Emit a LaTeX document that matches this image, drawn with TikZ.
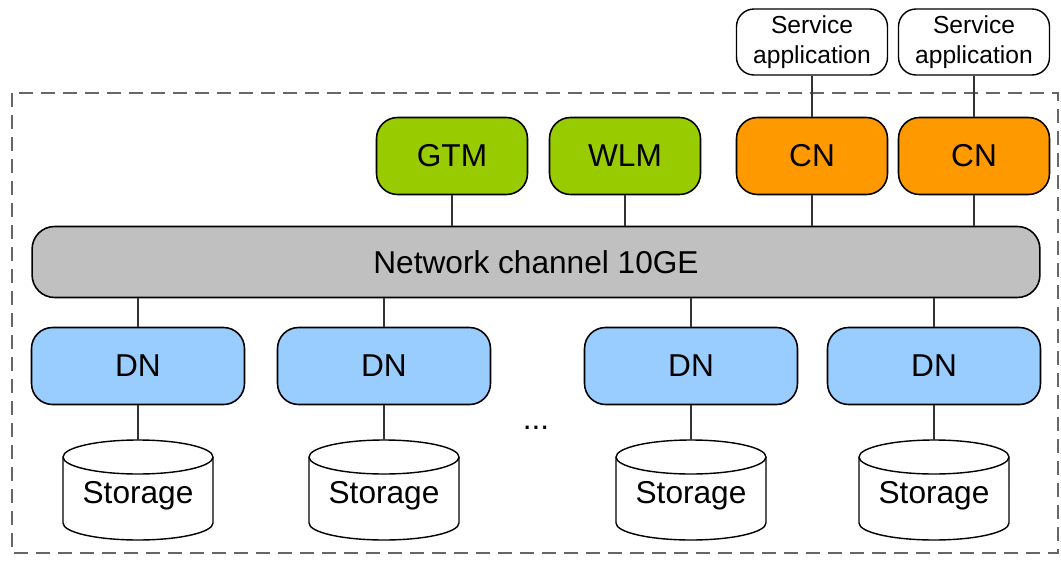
\documentclass[tikz,border=0pt]{standalone}
\usepackage{fontspec}
\setmainfont{Liberation Sans}
\usetikzlibrary{positioning}
\definecolor{mgreen}{HTML}{99CC00}
\definecolor{corange}{HTML}{FF9900}
\definecolor{dblue}{HTML}{99CCFF}
\definecolor{netgray}{HTML}{C0C0C0}
\tikzstyle{box} = [draw, line width=0.9pt, rounded corners=0.42cm, minimum height=1.54cm, font=\fontsize{18}{21}\selectfont]
\tikzstyle{gnode} = [box, fill=mgreen, minimum width=3.02cm]
\tikzstyle{cnode} = [box, fill=corange, minimum width=3.02cm]
\tikzstyle{dnode} = [box, fill=dblue, minimum width=4.26cm]
\tikzstyle{netbar} = [box, fill=netgray, minimum width=20.16cm, minimum height=1.42cm, rounded corners=0.45cm]
\tikzstyle{appbox} = [draw, line width=0.8pt, rounded corners=0.35cm, minimum width=3.02cm, minimum height=1.32cm, align=center, font=\fontsize{14}{17}\selectfont]
\tikzstyle{storage} = [minimum width=3cm, minimum height=2cm, text height=0.68cm, font=\fontsize{18}{21}\selectfont]
\tikzstyle{cyl} = [draw, line width=0.8pt, fill=white]
\tikzstyle{link} = [draw, line width=0.7pt, black!80]

\begin{document}
\begin{tikzpicture}[x=0.02cm, y=-0.02cm]
 \useasboundingbox (0,0) rectangle (1061,561);

 % cluster frame
 \draw[line width=1.1pt, black!60, dash pattern=on 0.28cm off 0.16cm] (12,93) rectangle (1058,553);

 \node[netbar] (net) at (536,262) {Network channel 10GE};

 \node[gnode] (gtm) at (452,156) {GTM};
 \node[gnode] (wlm) at (625,156) {WLM};
 \node[cnode] (cn1) at (812,156) {CN};
 \node[cnode] (cn2) at (974,156) {CN};

 \node[appbox] (app1) at (812,42) {Service\\application};
 \node[appbox] (app2) at (974,42) {Service\\application};

 \foreach \n in {gtm,wlm,cn1,cn2}
   \draw[link] (\n) -- (\n |- net.north);
 \draw[link] (app1) -- (cn1);
 \draw[link] (app2) -- (cn2);

 \foreach \x/\n in {138/1,384/2,691/3,934/4} {
   \node[dnode] (dn\n) at (\x,366) {DN};
   % disk drawn by hand
   \path[cyl] (\x-75,457) -- (\x-75,523)
     arc[start angle=180, end angle=360, x radius=1.5cm, y radius=0.34cm]
     -- (\x+75,457)
     arc[start angle=0, end angle=180, x radius=1.5cm, y radius=0.34cm] -- cycle;
   \draw[line width=0.8pt] (\x-75,457)
     arc[start angle=180, end angle=360, x radius=1.5cm, y radius=0.34cm];
   \node[storage] (st\n) at (\x,490) {Storage};
   \draw[link] (dn\n |- net.south) -- (dn\n);
   \draw[link] (dn\n) -- (st\n);
 }

 \node[font=\fontsize{18}{21}\selectfont] (dots) at (536,428) {...};

\end{tikzpicture}
\end{document}
